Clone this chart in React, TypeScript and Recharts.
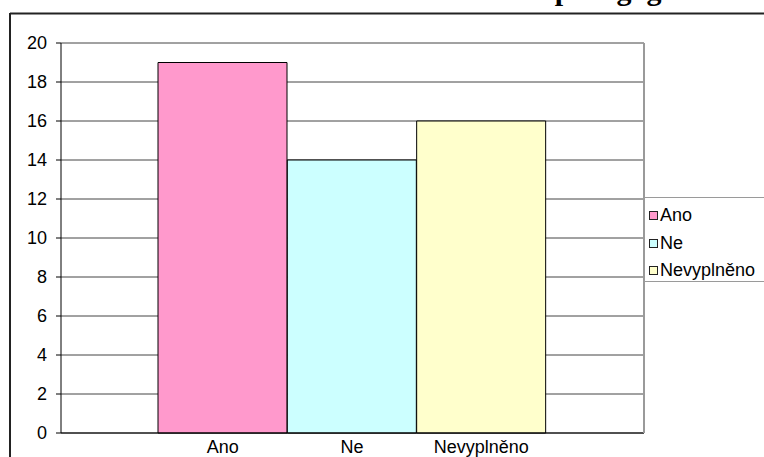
import {BarChart, Bar, Cell, XAxis, YAxis, CartesianGrid} from 'recharts';

const categories = ['Ano', 'Ne', 'Nevyplněno'];
const counts = [19, 14, 16];
const barColors = ['#ff99cc', '#ccffff', '#ffffcc'];
const yTicks = [0, 2, 4, 6, 8, 10, 12, 14, 16, 18, 20];

const chartData = categories.map((name, i) => ({name, value: counts[i]}));

const FONT = 'Arial, "Liberation Sans", sans-serif';
const FONT_SIZE = 18;

function LegendBox() {
  return (
    <div
      style={{
        position: 'absolute',
        left: 644,
        top: 197,
        width: 130,
        height: 85,
        border: '1px solid #9a9a9a',
        boxSizing: 'border-box',
        background: '#fff',
        paddingTop: 4,
        fontFamily: FONT,
        fontSize: FONT_SIZE,
        color: '#000',
        whiteSpace: 'nowrap'
      }}
    >
      {categories.map((name, i) => (
        <div key={name} style={{display: 'flex', alignItems: 'center', height: 27.5, paddingLeft: 4}}>
          <span
            style={{
              display: 'inline-block',
              width: 7,
              height: 7,
              border: '1px solid #222',
              background: barColors[i],
              marginRight: 2
            }}
          />
          <span>{name}</span>
        </div>
      ))}
    </div>
  );
}

export default function App() {
  return (
    <div style={{position: 'fixed', left: 0, top: 0, width: 764, height: 457, background: '#fff', overflow: 'hidden'}}>
      <div style={{position: 'absolute', left: 0, top: 0}}>
        <BarChart
          width={764}
          height={457}
          data={chartData}
          margin={{top: 43, right: 120, bottom: 0, left: 0}}
          barCategoryGap={0}
        >
          <CartesianGrid vertical={false} stroke="#444" />
          <XAxis
            dataKey="name"
            height={24}
            padding={{left: 97, right: 98}}
            axisLine={{stroke: '#000'}}
            tickLine={false}
            tickSize={0}
            tickMargin={7}
            tick={{fill: '#000', fontSize: FONT_SIZE, fontFamily: FONT}}
            interval={0}
          />
          <YAxis
            width={61}
            domain={[0, 20]}
            ticks={yTicks}
            interval={0}
            axisLine={{stroke: '#000'}}
            tickLine={{stroke: '#000'}}
            tickSize={5}
            tickMargin={9}
            tick={{fill: '#000', fontSize: FONT_SIZE, fontFamily: FONT}}
          />
          <Bar dataKey="value" stroke="#000" strokeWidth={1} isAnimationActive={false}>
            {chartData.map((d, i) => (
              <Cell key={d.name} fill={barColors[i]} />
            ))}
          </Bar>
        </BarChart>
      </div>
      {/* outer frame, plot right edge and clipped heading */}
      <svg width={764} height={457} style={{position: 'absolute', left: 0, top: 0, pointerEvents: 'none'}}>
        <text x={409} y={0} fontFamily='"Liberation Serif", "Times New Roman", serif' fontWeight="bold" fontSize={30}>
          Hodnocení pedagogů
        </text>
        <line x1={10} y1={13.5} x2={764} y2={13.5} stroke="#222" strokeWidth={2} />
        <line x1={10} y1={13} x2={10} y2={457} stroke="#222" strokeWidth={2} />
        <line x1={644} y1={43} x2={644} y2={433} stroke="#9a9a9a" strokeWidth={2} />
      </svg>
      <LegendBox />
    </div>
  );
}
